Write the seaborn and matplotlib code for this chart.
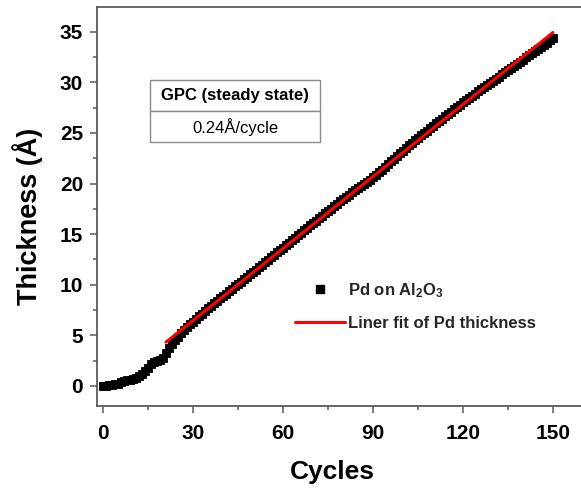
import numpy as np
import pandas as pd
import matplotlib
matplotlib.use("Agg")
import matplotlib.pyplot as plt
import seaborn as sns
from matplotlib.lines import Line2D
from matplotlib.ticker import MultipleLocator

# Measured film thickness (Å) after each ALD cycle, cycles 0..150
cycles = list(range(0, 151))
thickness = [
    0.00, 0.02, 0.05, 0.10, 0.15, 0.22, 0.35, 0.45, 0.55, 0.62,
    0.70, 0.80, 0.95, 1.20, 1.45, 1.80, 2.15, 2.40, 2.50, 2.60,
    2.80, 3.30, 3.80, 4.15, 4.50, 4.85, 5.20, 5.50, 5.80, 6.08,
    6.35, 6.62, 6.88, 7.14, 7.40, 7.66, 7.91, 8.16, 8.41, 8.65,
    8.89, 9.12, 9.36, 9.60, 9.84, 10.08, 10.31, 10.55, 10.79, 11.02,
    11.26, 11.50, 11.73, 11.97, 12.21, 12.46, 12.70, 12.95, 13.19, 13.43,
    13.68, 13.93, 14.17, 14.42, 14.66, 14.90, 15.14, 15.38, 15.62, 15.86,
    16.10, 16.34, 16.58, 16.82, 17.06, 17.30, 17.53, 17.77, 18.00, 18.23,
    18.46, 18.69, 18.92, 19.15, 19.37, 19.58, 19.79, 20.00, 20.20, 20.40,
    20.62, 20.86, 21.11, 21.37, 21.64, 21.92, 22.20, 22.47, 22.74, 23.00,
    23.26, 23.52, 23.78, 24.03, 24.28, 24.52, 24.76, 25.00, 25.24, 25.48,
    25.72, 25.96, 26.20, 26.43, 26.66, 26.89, 27.12, 27.35, 27.58, 27.80,
    28.02, 28.24, 28.46, 28.68, 28.90, 29.11, 29.32, 29.53, 29.74, 29.95,
    30.16, 30.37, 30.58, 30.79, 31.00, 31.21, 31.42, 31.63, 31.84, 32.05,
    32.26, 32.47, 32.68, 32.89, 33.10, 33.31, 33.52, 33.73, 33.94, 34.15,
    34.36,
]
# Steady-state growth: linear fit from this cycle onwards
fit_start_cycle = 21

series_label = "Pd on Al$_{2}$O$_{3}$"
fit_label = "Liner fit of Pd thickness"
table_header = "GPC (steady state)"
x_label = "Cycles"
y_label = "Thickness (Å)"
x_ticks = [0, 30, 60, 90, 120, 150]
y_ticks = [0, 5, 10, 15, 20, 25, 30, 35]

sns.set_theme(style="ticks")
plt.rcParams["font.family"] = ["Liberation Sans", "DejaVu Sans"]
plt.rcParams["mathtext.fontset"] = "custom"
plt.rcParams["mathtext.rm"] = "Liberation Sans:bold"
plt.rcParams["mathtext.it"] = "Liberation Sans:bold"
plt.rcParams["mathtext.bf"] = "Liberation Sans:bold"
plt.rcParams["mathtext.default"] = "rm"

df = pd.DataFrame({"cycle": cycles, "thickness": thickness})
steady = df[df["cycle"] >= fit_start_cycle]
slope, intercept = np.polyfit(steady["cycle"], steady["thickness"], 1)
fit_x = np.array([fit_start_cycle, cycles[-1]], dtype=float)
fit_df = pd.DataFrame({"cycle": fit_x, "thickness": slope * fit_x + intercept})
gpc_text = f"{slope:.2f}Å/cycle"

W, H = 581, 492
fig = plt.figure(figsize=(W / 100, H / 100), dpi=100)
fig.patch.set_facecolor("white")
ax = fig.add_axes([97 / W, 86.3 / H, 492 / W, 398.7 / H])
ax.set_facecolor("white")

sns.scatterplot(data=df, x="cycle", y="thickness", marker="s", s=30,
                color="black", edgecolor="black", linewidth=0.6, ax=ax,
                legend=False, zorder=2)
sns.lineplot(data=fit_df, x="cycle", y="thickness", color="red",
             linewidth=2.2, ax=ax, legend=False, zorder=3)

ax.set_xlim(-2, 162)
ax.set_ylim(-1.95, 37.45)
ax.set_xticks(x_ticks)
ax.set_yticks(y_ticks)
ax.xaxis.set_minor_locator(MultipleLocator(15))
ax.yaxis.set_minor_locator(MultipleLocator(2.5))

spine_color = "#5a5a5a"
for side in ["left", "bottom", "top", "right"]:
    ax.spines[side].set_color(spine_color)
    ax.spines[side].set_linewidth(1.3)
ax.tick_params(which="both", direction="out", color=spine_color, width=1.1,
               top=False, right=False)
ax.tick_params(which="major", length=5, labelsize=15, labelcolor="black")
ax.tick_params(which="minor", length=3)
ax.tick_params(axis="x", which="major", pad=8)
ax.tick_params(axis="y", which="major", pad=5)
for lab in ax.get_xticklabels() + ax.get_yticklabels():
    lab.set_fontweight("bold")

ax.set_xlabel(x_label, fontsize=19, fontweight="bold", color="black")
ax.set_ylabel(y_label, fontsize=19.5, fontweight="bold", color="black")
ax.xaxis.set_label_coords(0.478, -0.135)
ax.yaxis.set_label_coords(-0.11, 0.474)

# GPC summary table
tbl = ax.table(cellText=[[table_header], [gpc_text]], cellLoc="center",
               bbox=[0.1077, 0.661, 0.3455, 0.1555])
tbl.auto_set_font_size(False)
for (r, c), cell in tbl.get_celld().items():
    cell.set_edgecolor("#8a8a8a")
    cell.set_linewidth(1.0)
    cell.set_facecolor("white")
    cell.get_text().set_fontsize(12)
    cell.get_text().set_fontweight("bold" if r == 0 else "normal")
    cell.get_text().set_color("black")

handles = [
    Line2D([], [], marker="s", color="black", linestyle="none", markersize=5.2),
    Line2D([], [], color="red", linewidth=2.2),
]
ax.legend(handles, [series_label, fit_label], loc="upper left",
          bbox_to_anchor=(0.402, 0.313), frameon=False, borderpad=0,
          borderaxespad=0, handlelength=3.0, handletextpad=0.2,
          labelspacing=1.0, prop={"weight": "bold", "size": 12})

fig.savefig("out.png", dpi=100, facecolor="white")
